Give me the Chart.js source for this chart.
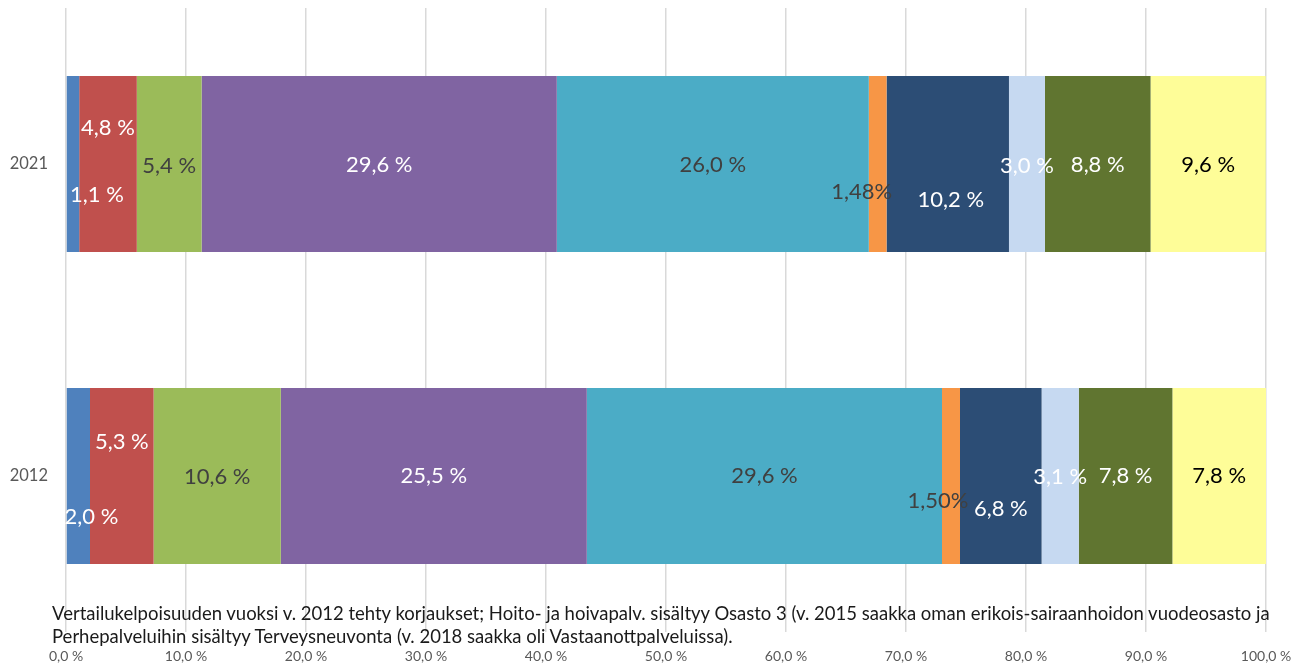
<!DOCTYPE html>
<html>
<head>
<meta charset="utf-8">
<script src="https://cdn.jsdelivr.net/npm/chart.js@4.4.1/dist/chart.umd.min.js"></script>
<style>
  html, body { margin: 0; padding: 0; background: #fff; }
  #wrap { position: relative; width: 1306px; height: 664px; }
  #footnote {
    position: absolute; left: 52px; top: 602px;
    font-family: Lato, "Liberation Sans", sans-serif; font-size: 18.5px;
    line-height: 23px; color: #1a1a1a; white-space: nowrap;
  }
</style>
</head>
<body>
<div id="wrap">
  <canvas id="chart" width="1306" height="664"></canvas>
  <div id="footnote">
    <div>Vertailukelpoisuuden vuoksi v. 2012 tehty korjaukset; Hoito- ja hoivapalv. sisältyy Osasto 3 (v. 2015 saakka oman erikois-sairaanhoidon vuodeosasto ja</div>
    <div>Perhepalveluihin sisältyy Terveysneuvonta (v. 2018 saakka oli Vastaanottpalveluissa).</div>
  </div>
</div>
<script>
// Data
const years = ['2021', '2012'];
const xTicks = [0, 10, 20, 30, 40, 50, 60, 70, 80, 90, 100];

const sarja1 = [1.1, 2.0];
const sarja2 = [4.8, 5.3];
const sarja3 = [5.4, 10.6];
const sarja4 = [29.6, 25.5];
const sarja5 = [26.0, 29.6];
const sarja6 = [1.48, 1.50];
const sarja7 = [10.2, 6.8];
const sarja8 = [3.0, 3.1];
const sarja9 = [8.8, 7.8];
const sarja10 = [9.6, 7.8];
const sarja11 = [0.1, 0.1];

// Tyylit
const colors = ['#4f81bd', '#c0504d', '#9bbb59', '#8064a2', '#4bacc6', '#f79646',
                '#2c4d75', '#c6d9f1', '#607530', '#fefd98', '#31859c'];
const labelColors = ['#fff', '#fff', '#404040', '#fff', '#404040', '#404040',
                     '#fff', '#fff', '#fff', '#000', null];
// label shift in px [dx, dy] for 2021 and 2012
const labelShift = [
  [[24, 31], [13, 41]],
  [[0, -36], [0, -34]],
  [[0, 2], [0, 1]],
  [[0, 1], [0, 0]],
  [[0, 1], [0, 0]],
  [[-16, 28], [-13, 25]],
  [[3, 36], [0, 33]],
  [[0, 2], [0, 1]],
  [[0, 1], [0, 0]],
  [[0, 1], [0, 0]],
  [[0, 0], [0, 0]]
];

const series = [sarja1, sarja2, sarja3, sarja4, sarja5, sarja6, sarja7, sarja8, sarja9, sarja10, sarja11];

function fmt(v, i) {
  if (i === 5) return v.toFixed(2).replace('.', ',') + '%';
  return v.toFixed(1).replace('.', ',') + ' %';
}

const datasets = series.map((s, i) => ({
  label: 'Sarja ' + (i + 1),
  data: s,
  backgroundColor: colors[i],
  borderWidth: 0,
  barPercentage: 1,
  categoryPercentage: 0.564
}));

// omat arvolaput
const valueLabels = {
  id: 'valueLabels',
  afterDatasetsDraw(chart) {
    const ctx = chart.ctx;
    ctx.save();
    ctx.font = '22px Lato, "Liberation Sans", sans-serif';
    ctx.textAlign = 'center';
    ctx.textBaseline = 'middle';
    chart.data.datasets.forEach((ds, i) => {
      if (!labelColors[i]) return;
      const meta = chart.getDatasetMeta(i);
      meta.data.forEach((bar, j) => {
        const x = (bar.x + bar.base) / 2 + labelShift[i][j][0];
        const y = bar.y + labelShift[i][j][1];
        ctx.fillStyle = labelColors[i];
        ctx.fillText(fmt(ds.data[j], i), x, y);
      });
    });
    ctx.restore();
  }
};

new Chart(document.getElementById('chart'), {
  type: 'bar',
  data: { labels: years, datasets: datasets },
  options: {
    indexAxis: 'y',
    responsive: false,
    animation: false,
    layout: { padding: { top: 8, right: 40, left: 0, bottom: 0 } },
    plugins: {
      legend: { display: false },
      tooltip: { enabled: false }
    },
    scales: {
      x: {
        stacked: true,
        min: 0,
        max: 100,
        afterBuildTicks: (scale) => { scale.ticks = xTicks.map(v => ({ value: v })); },
        afterFit: (scale) => {
          scale.height = 32;
          scale.paddingLeft = 0;
          scale.paddingRight = 0;
        },
        grid: { color: '#d9d9d9', lineWidth: 1.5, drawTicks: false },
        border: { display: false },
        ticks: {
          padding: 16,
          color: '#595959',
          font: { family: 'Lato, "Liberation Sans", sans-serif', size: 14 },
          maxRotation: 0,
          callback: (v) => v.toFixed(1).replace('.', ',') + ' %'
        }
      },
      y: {
        stacked: true,
        grid: { display: false },
        border: { display: false },
        afterFit: (scale) => {
          scale.width = 66;
          scale.paddingTop = 0;
          scale.paddingBottom = 0;
        },
        ticks: {
          padding: 10,
          color: '#595959',
          font: { family: 'Lato, "Liberation Sans", sans-serif', size: 16.5 }
        }
      }
    }
  },
  plugins: [valueLabels]
});
</script>
</body>
</html>
